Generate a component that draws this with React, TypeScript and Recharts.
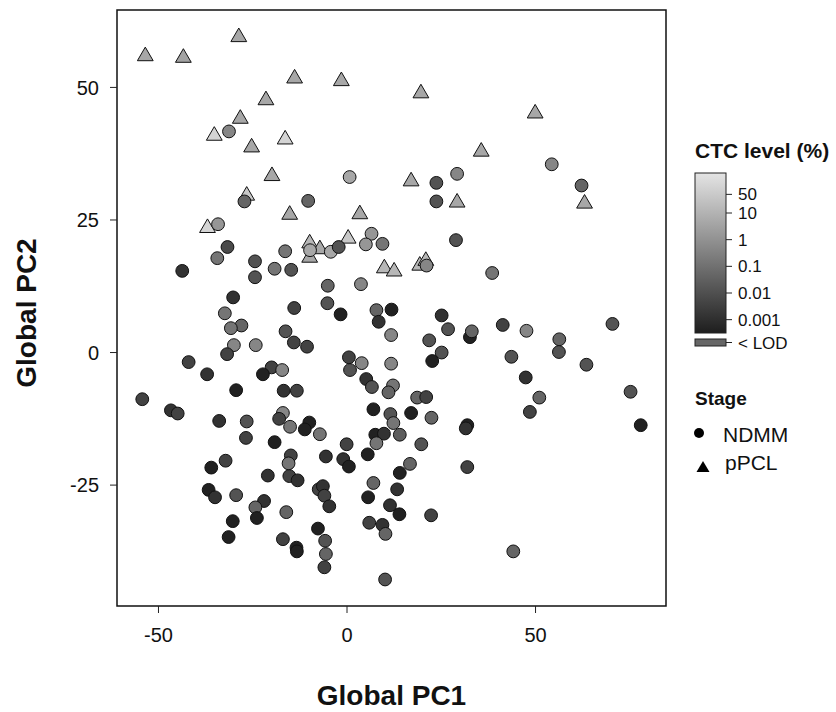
import React from 'react';
import { ScatterChart, Scatter, XAxis, YAxis, ReferenceArea, Legend } from 'recharts';

// NDMM (circles)
const ndmmX = [-31.3, 0.7, -27.2, -10.3, -34.2, 6.5, 5.0, 9.4, -31.7, -16.4, -9.8, -4.3, -2.2, 54.3, 23.7, 29.2, 23.7, 62.2, 28.9, -34.4, -24.4, -43.7, -24.4, -19.2, -14.8, -5.1, 3.7, -30.2, -14.0, -5.2, -1.7, 7.8, 11.8, 8.4, -32.4, -28.0, -30.8, -16.3, -14.1, -10.6, -30.0, -24.2, -31.8, 11.7, -42.0, -37.1, -20.0, -17.2, -22.3, 0.5, 3.9, 0.8, 11.7, 5.1, 6.6, 12.2, 11.0, -29.4, -16.8, -13.3, -54.3, -46.7, -44.9, -33.9, -26.6, -17.0, -18.0, -10.0, -15.1, -11.2, 7.0, 11.5, 12.3, -7.2, -26.8, -19.2, -0.1, 7.5, 9.8, 7.8, 14.0, -14.9, -15.5, -5.6, 5.5, -1.0, 0.5, -32.2, -36.0, -21.0, -15.3, -13.1, -7.5, -6.4, -6.0, -4.7, 7.0, 5.6, -36.7, -35.0, -29.4, -22.0, -24.3, -23.9, -30.3, -31.4, -16.1, -7.7, -17.0, -13.4, -13.3, -5.8, -5.6, -6.0, 10.1, 5.9, 9.4, 10.2, 11.4, 13.3, 13.9, 14.0, 19.7, 16.7, 22.3, 31.9, 31.5, 31.9, 77.9, 44.1, 21.1, 38.5, 25.1, 26.8, 21.8, 25.1, 22.6, 32.6, 33.1, 41.3, 47.6, 56.3, 56.2, 43.6, 47.4, 51.0, 48.5, 63.5, 70.4, 75.2, 18.6, 21.0, 17.0, 22.4];
const ndmmY = [41.7, 33.1, 28.5, 28.6, 24.2, 22.4, 20.4, 20.5, 19.9, 19.1, 19.3, 19.0, 19.9, 35.5, 32.0, 33.7, 28.5, 31.5, 21.2, 17.8, 17.2, 15.4, 14.2, 15.8, 15.6, 12.6, 12.9, 10.4, 8.4, 9.3, 7.2, 8.0, 8.1, 5.8, 7.4, 5.1, 4.6, 4.0, 1.9, 1.1, 1.4, 1.4, -0.3, 3.3, -1.8, -4.1, -2.8, -3.3, -4.1, -0.9, -2.0, -3.3, -2.1, -5.0, -6.5, -6.2, -7.5, -7.1, -7.2, -7.2, -8.8, -10.9, -11.5, -12.9, -13.0, -11.4, -12.5, -13.2, -14.0, -14.5, -10.7, -11.6, -13.3, -15.4, -16.1, -16.9, -17.3, -15.5, -15.3, -17.1, -15.5, -19.4, -20.9, -19.6, -19.2, -20.1, -21.5, -20.4, -21.7, -23.2, -23.3, -24.1, -25.8, -25.2, -27.0, -29.0, -24.6, -27.3, -25.9, -27.3, -26.9, -28.0, -29.2, -31.2, -31.8, -34.8, -30.1, -33.2, -35.2, -36.8, -37.5, -35.5, -38.0, -40.5, -42.8, -32.1, -32.5, -34.2, -28.8, -25.8, -30.5, -22.7, -17.3, -21.0, -30.7, -13.7, -14.3, -21.6, -13.7, -37.5, 16.4, 15.0, 7.0, 4.4, 2.3, 0.0, -1.6, 2.9, 4.0, 5.2, 4.1, 2.5, 0.1, -0.8, -4.7, -8.5, -11.2, -2.3, 5.4, -7.4, -8.5, -8.4, -11.4, -12.3];
const ndmmCTC = [0.45, 4.5, 0.045, 0.045, 1.4, 1.4, 1.4, 0.14, 0.007, 0.14, 4.5, 4.5, 0.013, 0.45, 0.013, 0.45, 0.013, 0.045, 0.013, 0.14, 0.013, 0.0013, 0.013, 0.14, 0.013, 0.045, 0.45, 0.0013, 0.004, 0.013, 0.0004, 0.045, 0.0004, 0.0013, 0.14, 0.045, 0.14, 0.013, 0.004, 0.004, 0.45, 0.45, 0.004, 0.45, 0.004, 0.0013, 0.004, 0.45, 0.0004, 0.004, 0.45, 0.013, 0.45, 0.0013, 0.013, 0.14, 0.045, 0.0004, 0.0013, 0.004, 0.004, 0.0013, 0.004, 0.0013, 0.013, 0.45, 0.004, 0.0004, 0.14, 0.0004, 0.0004, 0.013, 0.14, 0.14, 0.004, 0.0004, 0.004, 0.0004, 0.0013, 0.14, 0.025, 0.004, 0.14, 0.0013, 0.0004, 0.0013, 0.0004, 0.004, 0.0004, 0.0013, 0.004, 0.0013, 0.004, 0.0013, 0.004, 0.0013, 0.045, 0.0004, 0.0004, 0.0013, 0.013, 0.0013, 0.045, 0.0004, 0.0004, 0.0004, 0.045, 0.0004, 0.004, 0.0004, 0.0004, 0.013, 0.045, 0.004, 0.013, 0.004, 0.0013, 0.045, 0.0013, 0.0013, 0.0004, 0.0004, 0.013, 0.045, 0.004, 0.0004, 0.0013, 0.004, 0.0004, 0.045, 0.45, 0.14, 0.0013, 0.013, 0.013, 0.013, 0.0004, 0.0004, 0.045, 0.004, 0.45, 0.045, 0.013, 0.013, 0.0013, 0.045, 0.004, 0.013, 0.013, 0.013, 0.045, 0.004, 0.0004, 0.045];

// pPCL (triangles)
const ppclX = [-53.5, -43.4, -28.7, -13.9, -1.5, -21.5, -28.3, -35.2, -16.4, -25.3, -19.9, -26.6, -15.2, 3.4, -37.0, -9.9, -9.9, 0.3, -7.2, 9.9, 12.5, 19.3, 20.9, 19.6, 49.9, 35.6, 17.0, 29.2, 63.0];
const ppclY = [56.3, 56.0, 59.9, 52.1, 51.6, 48.0, 44.5, 41.3, 40.6, 39.1, 33.7, 30.0, 26.4, 26.5, 23.9, 21.0, 18.3, 21.9, 19.9, 16.3, 15.7, 16.8, 17.7, 49.3, 45.5, 38.3, 32.7, 28.7, 28.5];
const ppclCTC = [4.5, 3.5, 4.5, 4.5, 4.5, 4.5, 4.5, 100, 100, 4.5, 4.5, 45, 4.5, 4.5, 100, 14, 4.5, 45, 4.5, 14, 14, 14, 14, 4.5, 4.5, 4.5, 4.5, 4.5, 4.5];

const xTicks = [-50, 0, 50];
const yTicks = [-25, 0, 25, 50];
const ctcTicks = [50, 10, 1, 0.1, 0.01, 0.001];
const ctcTickLabels = ['50', '10', '1', '0.1', '0.01', '0.001'];

const FONT = '"Liberation Sans", Arial, Helvetica, sans-serif';
const LOG_MIN = -3.5;
const LOG_MAX = 2.5;
const G_MIN = 30;
const G_MAX = 228;

const grayFor = (level: number) => {
  const L = Math.log10(level);
  let g = G_MIN + ((L - LOG_MIN) / (LOG_MAX - LOG_MIN)) * (G_MAX - G_MIN);
  g = Math.max(G_MIN, Math.min(G_MAX, Math.round(g)));
  return `rgb(${g},${g},${g})`;
};

const ndmmData = ndmmX.map((x, i) => ({ x, y: ndmmY[i], ctc: ndmmCTC[i] }));
const ppclData = ppclX.map((x, i) => ({ x, y: ppclY[i], ctc: ppclCTC[i] }));

const CircleShape = (props: any) => {
  const { cx, cy, payload } = props;
  if (cx == null || cy == null) return null;
  return <circle cx={cx} cy={cy} r={6.4} fill={grayFor(payload.ctc)} stroke="#111" strokeWidth={1} />;
};

const TriangleShape = (props: any) => {
  const { cx, cy, payload } = props;
  if (cx == null || cy == null) return null;
  const pts = `${cx},${cy - 6.9} ${cx - 7.9},${cy + 6.7} ${cx + 7.9},${cy + 6.7}`;
  return <polygon points={pts} fill={grayFor(payload.ctc)} stroke="#111" strokeWidth={1} strokeLinejoin="miter" />;
};

const XTitle = (props: any) => {
  const vb = props.viewBox || { x: 117, y: 606, width: 549, height: 106 };
  return (
    <text x={vb.x + vb.width / 2} y={vb.y + 99} textAnchor="middle" fontFamily={FONT} fontWeight="bold" fontSize={28} fill="#111">
      Global PC1
    </text>
  );
};

const YTitle = (props: any) => {
  const vb = props.viewBox || { x: 0, y: 10, width: 117, height: 596 };
  const x = vb.x + 36;
  const y = vb.y + vb.height / 2 + 5;
  return (
    <text x={x} y={y} transform={`rotate(-90 ${x} ${y})`} textAnchor="middle" fontFamily={FONT} fontWeight="bold" fontSize={28} fill="#111">
      Global PC2
    </text>
  );
};

// legend geometry (relative to legend box at 680,130)
const BAR_X = 15;
const BAR_W = 31;
const BAR_TOP = 43;
const BAR_BOTTOM = 203;
const yForLog = (L: number) => BAR_BOTTOM - ((L - LOG_MIN) / (LOG_MAX - LOG_MIN)) * (BAR_BOTTOM - BAR_TOP);

const renderLegend = () => (
  <svg width={156} height={360} style={{ display: 'block', overflow: 'visible' }}>
    <defs>
      <linearGradient id="ctcGrad" x1="0" y1="0" x2="0" y2="1">
        <stop offset="0%" stopColor={`rgb(${G_MAX},${G_MAX},${G_MAX})`} />
        <stop offset="100%" stopColor={`rgb(${G_MIN},${G_MIN},${G_MIN})`} />
      </linearGradient>
    </defs>
    <text x={BAR_X} y={28} fontFamily={FONT} fontWeight="bold" fontSize={21} fill="#111">CTC level (%)</text>
    <rect x={BAR_X} y={BAR_TOP} width={BAR_W} height={BAR_BOTTOM - BAR_TOP} fill="url(#ctcGrad)" stroke="#222" strokeWidth={1} />
    {ctcTicks.map((v, i) => {
      const y = yForLog(Math.log10(v));
      return (
        <g key={v}>
          <line x1={BAR_X + BAR_W} x2={BAR_X + BAR_W + 6} y1={y} y2={y} stroke="#222" strokeWidth={1} />
          <text x={BAR_X + BAR_W + 12} y={y} dy="0.36em" fontFamily={FONT} fontSize={17} fill="#111">{ctcTickLabels[i]}</text>
        </g>
      );
    })}
    <rect x={BAR_X} y={209} width={BAR_W} height={7} fill="#666" stroke="#222" strokeWidth={1} />
    <line x1={BAR_X + BAR_W} x2={BAR_X + BAR_W + 6} y1={212.5} y2={212.5} stroke="#222" strokeWidth={1} />
    <text x={BAR_X + BAR_W + 12} y={213} dy="0.36em" fontFamily={FONT} fontSize={17} fill="#111">&lt; LOD</text>

    <text x={BAR_X} y={275} fontFamily={FONT} fontWeight="bold" fontSize={19} fill="#111">Stage</text>
    <circle cx={19} cy={303} r={5} fill="#000" />
    <text x={43} y={304} dy="0.36em" fontFamily={FONT} fontSize={21} fill="#111">NDMM</text>
    <polygon points="23,331 16.5,342 29.5,342" fill="#000" />
    <text x={45} y={332} dy="0.36em" fontFamily={FONT} fontSize={21} fill="#111">pPCL</text>
  </svg>
);

export default function App() {
  return (
    <div style={{ position: 'absolute', left: 0, top: 0, width: 836, height: 712, background: '#fff' }}>
      <ScatterChart width={836} height={712} margin={{ top: 10, right: 170, bottom: 0, left: 0 }}>
        <XAxis
          type="number"
          dataKey="x"
          domain={[-61, 84.6]}
          ticks={xTicks}
          interval={0}
          allowDataOverflow
          height={106}
          axisLine={false}
          tickSize={7}
          tickMargin={15}
          tickLine={{ stroke: '#222', strokeWidth: 1 }}
          tick={{ fontSize: 20, fill: '#111', fontFamily: FONT }}
          label={{ content: XTitle }}
        />
        <YAxis
          type="number"
          dataKey="y"
          domain={[-47.8, 64.6]}
          ticks={yTicks}
          interval={0}
          allowDataOverflow
          width={117}
          axisLine={false}
          tickSize={7}
          tickMargin={11}
          tickLine={{ stroke: '#222', strokeWidth: 1 }}
          tick={{ fontSize: 20, fill: '#111', fontFamily: FONT }}
          label={{ content: YTitle }}
        />
        <ReferenceArea x1={-61} x2={84.6} y1={-47.8} y2={64.6} fill="none" fillOpacity={0} stroke="#111" strokeWidth={1.5} ifOverflow="visible" />
        <Scatter name="pPCL" data={ppclData} shape={TriangleShape} isAnimationActive={false} />
        <Scatter name="NDMM" data={ndmmData} shape={CircleShape} isAnimationActive={false} />
        <Legend
          layout="vertical"
          align="center"
          verticalAlign="middle"
          content={renderLegend}
          wrapperStyle={{ position: 'absolute', left: 680, top: 130, width: 156, height: 360 }}
        />
      </ScatterChart>
    </div>
  );
}
